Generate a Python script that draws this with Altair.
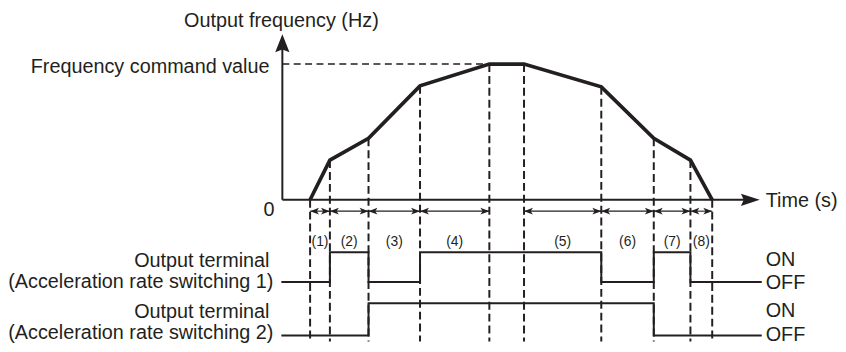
import altair as alt
import pandas as pd

INK = "#231f20"
FONT = "Liberation Sans"

# ---- data (time offset from origin, frequency above zero) ----
times = [28, 48, 87, 139, 209, 244, 322, 375, 412, 434]
freqs = [0, 40, 62, 115, 137, 137, 114, 62, 40, 0]
interval_names = ["(1)", "(2)", "(3)", "(4)", "(5)", "(6)", "(7)", "(8)"]
interval_idx = [(0, 1), (1, 2), (2, 3), (3, 4), (5, 6), (6, 7), (7, 8), (8, 9)]

# output terminal states (0 = OFF, 1 = ON) at change times
sig1_times = [0, 48, 87, 139, 322, 375, 412, 483]
sig1_state = [0, 1, 0, 1, 0, 1, 0, 0]
sig2_times = [0, 87, 375, 483]
sig2_state = [0, 1, 0, 0]

# ---- diagram geometry (in the same units) ----
sig1_levels = (-83, -53)     # OFF, ON
sig2_levels = (-137, -104.5)
guide_bottom = -143
arrow_row = -11.5
label_row = -46.5
t_axis_end = 470
t_arrow_tip = 482
f_axis_end = 158
f_arrow_tip = 167

W, H = 838, 336
xs = alt.Scale(domain=[-277, 561], nice=False, zero=False)
ys = alt.Scale(domain=[-144, 192], nice=False, zero=False)


def X(f):
    return alt.X(f, type="quantitative", scale=xs, axis=None)


def Y(f):
    return alt.Y(f, type="quantitative", scale=ys, axis=None)


# frequency curve
curve_df = pd.DataFrame({"t": times, "f": freqs, "o": range(len(times))})
curve = alt.Chart(curve_df).mark_line(color=INK, strokeWidth=3.7, strokeJoin="miter").encode(
    x=X("t"), y=Y("f"), order="o:Q")

# vertical dashed guides
guides_df = pd.DataFrame({"t": times, "f": freqs, "f2": [guide_bottom] * len(times)})
guides = alt.Chart(guides_df).mark_rule(color=INK, strokeWidth=2, strokeDash=[8, 4]).encode(
    x=X("t"), y=Y("f"), y2="f2")

# horizontal dashed (frequency command value)
cmd_df = pd.DataFrame({"t": [0], "t2": [times[4]], "f": [freqs[4]]})
cmd = alt.Chart(cmd_df).mark_rule(color=INK, strokeWidth=1.6, strokeDash=[7, 4.5]).encode(
    x=X("t"), x2="t2", y=Y("f"))

# axes
axes_df = pd.DataFrame({"t": [0, 0], "t2": [0, t_axis_end], "f": [0, 0], "f2": [f_axis_end, 0]})
axes = alt.Chart(axes_df).mark_rule(color=INK, strokeWidth=2).encode(
    x=X("t"), x2="t2", y=Y("f"), y2="f2")

up_arrow = alt.Chart(pd.DataFrame({"t": [0], "f": [f_arrow_tip]})).mark_point(
    shape="M0,0L-0.8,2L0,1.7L0.8,2Z", size=324, filled=True, opacity=1, color=INK, strokeWidth=0
).encode(x=X("t"), y=Y("f"))
right_arrow = alt.Chart(pd.DataFrame({"t": [t_arrow_tip], "f": [0]})).mark_point(
    shape="M0,0L-2,-0.65L-1.7,0L-2,0.65Z", size=361, filled=True, opacity=1, color=INK, strokeWidth=0
).encode(x=X("t"), y=Y("f"))

# interval arrows
iv_a = [times[a] for a, b in interval_idx]
iv_b = [times[b] for a, b in interval_idx]
iv_df = pd.DataFrame({"a": iv_a, "b": iv_b, "f": [arrow_row] * len(iv_a),
                      "mid": [(p + q) / 2 for p, q in zip(iv_a, iv_b)],
                      "lf": [label_row] * len(iv_a), "name": interval_names})
iv_lines = alt.Chart(iv_df).mark_rule(color=INK, strokeWidth=1.1).encode(
    x=X("a"), x2="b", y=Y("f"))
iv_left = alt.Chart(iv_df).mark_point(
    shape="M0,0L2,-0.75L1.5,0L2,0.75Z", size=81, filled=True, opacity=1, color=INK, strokeWidth=0
).encode(x=X("a"), y=Y("f"))
iv_right = alt.Chart(iv_df).mark_point(
    shape="M0,0L-2,-0.75L-1.5,0L-2,0.75Z", size=81, filled=True, opacity=1, color=INK, strokeWidth=0
).encode(x=X("b"), y=Y("f"))
iv_text = alt.Chart(iv_df).mark_text(
    font=FONT, fontSize=14, color=INK, align="center", baseline="alphabetic"
).encode(x=X("mid"), y=Y("lf"), text="name:N")

# output terminal signals
sig_rows = []
for tt, s in zip(sig1_times, sig1_state):
    sig_rows.append({"sig": "1", "t": tt, "f": sig1_levels[s]})
for tt, s in zip(sig2_times, sig2_state):
    sig_rows.append({"sig": "2", "t": tt, "f": sig2_levels[s]})
sig_df = pd.DataFrame(sig_rows)
sig_df["o"] = range(len(sig_df))
signals = alt.Chart(sig_df).mark_line(
    color=INK, strokeWidth=2, interpolate="step-after", strokeCap="square"
).encode(x=X("t"), y=Y("f"), detail="sig:N", order="o:Q")

# texts
right_texts = pd.DataFrame({
    "t": [-13, -8, -13, -9, -13, -9],
    "f": [127.5, -16, -68, -89, -119, -141],
    "label": ["Frequency command value", "0", "Output terminal",
              "(Acceleration rate switching 1)", "Output terminal",
              "(Acceleration rate switching 2)"],
})
left_texts = pd.DataFrame({
    "t": [488, 488, 488, 488, 488],
    "f": [-7, -67, -90, -118, -142.5],
    "label": ["Time (s)", "ON", "OFF", "ON", "OFF"],
})
center_texts = pd.DataFrame({"t": [-1], "f": [174], "label": ["Output frequency (Hz)"]})

t_right = alt.Chart(right_texts).mark_text(
    font=FONT, fontSize=20, color=INK, align="right", baseline="alphabetic"
).encode(x=X("t"), y=Y("f"), text="label:N")
t_left = alt.Chart(left_texts).mark_text(
    font=FONT, fontSize=20, color=INK, align="left", baseline="alphabetic"
).encode(x=X("t"), y=Y("f"), text="label:N")
t_center = alt.Chart(center_texts).mark_text(
    font=FONT, fontSize=20, color=INK, align="center", baseline="alphabetic"
).encode(x=X("t"), y=Y("f"), text="label:N")

chart = alt.layer(
    guides, cmd, axes, up_arrow, right_arrow, iv_lines, iv_left, iv_right, iv_text,
    signals, curve, t_right, t_left, t_center
).properties(
    width=W, height=H, padding=0, autosize=alt.AutoSizeParams(type="none"),
    background="white"
).configure_view(stroke=None)

chart.save("out.html", embed_options={"renderer": "svg", "actions": False})
